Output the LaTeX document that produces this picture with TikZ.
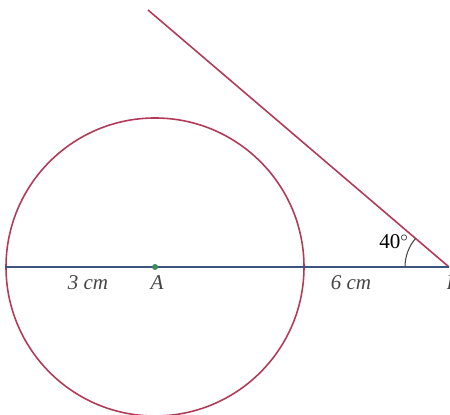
\documentclass[tikz,border=0pt]{standalone}
\usepackage{fontspec}
\setmainfont{Liberation Serif}
\usetikzlibrary{positioning}
\definecolor{circred}{RGB}{178,58,88}
\definecolor{axisblue}{RGB}{62,84,128}
\definecolor{dotgreen}{RGB}{60,140,90}
\definecolor{labgray}{RGB}{70,70,70}

\begin{document}
\begin{tikzpicture}[
    x=0.02cm, y=0.02cm,
    font=\normalsize,
    lab/.style={text=labgray, font=\large\itshape, inner sep=1pt},
    redline/.style={draw=circred, line width=0.9pt},
    blueline/.style={draw=axisblue, line width=0.9pt}
]
\useasboundingbox (0,0) rectangle (450,415);

% points
\coordinate (A) at (155,148);
\coordinate (B) at (449,148);
\coordinate (L) at (5,148);
\coordinate (T) at (148,405);

% circle and lines
\draw[redline] (A) circle (149);
\draw[redline] (B) -- (T);
\draw[blueline] (L) -- (B);
\fill[dotgreen] (A) circle (3);

% angle
\draw[labgray, line width=0.6pt] ([shift={(180:44)}]B) arc (180:139.4:44);

% labels
\node[lab] (lab3) at (88,132) {3 cm};
\node[lab] (labA) at (157,132) {A};
\node[lab] (lab6) at (351,132) {6 cm};
\node[lab] (labB) at (453,132) {B};
\node[text=black, font=\large, inner sep=1pt] (ang) at (394,173) {40$^{\circ}$};
\end{tikzpicture}
\end{document}
